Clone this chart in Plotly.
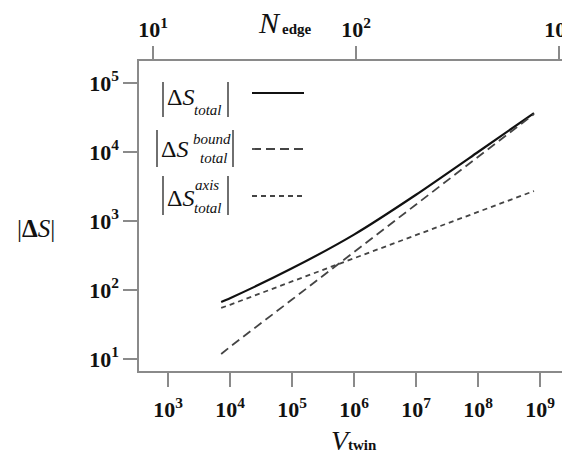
import plotly.graph_objects as go

# ---- data ----
V_twin = [7.2e3, 1e4, 1e5, 1e6, 1e7, 1e8, 8e8]
S_total = [67, 76, 206, 635, 2400, 10000, 36700]
S_bound = [11.8, 15, 72.6, 355, 1730, 8470, 35500]
S_axis = [55, 61, 133, 288, 624, 1352, 2720]

x_tickvals = [1e3, 1e4, 1e5, 1e6, 1e7, 1e8, 1e9]
x_ticktext = ["10<sup>3</sup>", "10<sup>4</sup>", "10<sup>5</sup>", "10<sup>6</sup>",
              "10<sup>7</sup>", "10<sup>8</sup>", "10<sup>9</sup>"]
y_tickvals = [1e1, 1e2, 1e3, 1e4, 1e5]
y_ticktext = ["10<sup>1</sup>", "10<sup>2</sup>", "10<sup>3</sup>", "10<sup>4</sup>", "10<sup>5</sup>"]
n_tickvals = [1e1, 1e2, 1e3]
n_ticktext = ["10<sup>1</sup>", "10<sup>2</sup>", "10<sup>3</sup>"]

OFF = 8  # default page body margin
W, H = 570 - OFF, 453 - OFF
L, T, B = 139 - OFF, 61 - OFF, 82
R = 0
PW, PH = W - L - R, H - T - B
SERIF = "Liberation Serif"
AX = "#8a8a8a"


def px(x):
    return (x - OFF - L) / PW


def py(y):
    return (H - B - (y - OFF)) / PH


fig = go.Figure()
fig.add_trace(go.Scatter(x=V_twin, y=S_total, mode="lines", line=dict(color="#111", width=2.2, shape="spline", smoothing=0.6), showlegend=False))
fig.add_trace(go.Scatter(x=V_twin, y=S_bound, mode="lines", line=dict(color="#444", width=1.8, dash="9px,5px"), showlegend=False))
fig.add_trace(go.Scatter(x=V_twin, y=S_axis, mode="lines", line=dict(color="#444", width=1.8, dash="5px,4px"), showlegend=False))
fig.add_trace(go.Scatter(x=[], y=[], xaxis="x2", showlegend=False))

tickfont = dict(family=SERIF, size=22, color="#111", weight="bold")

fig.update_layout(
    width=W, height=H,
    margin=dict(l=L, r=R, t=T, b=B, autoexpand=False),
    paper_bgcolor="white", plot_bgcolor="white",
    xaxis=dict(type="log", range=[2.532, 9.484], tickvals=x_tickvals, ticktext=x_ticktext,
               ticks="outside", ticklen=14, tickcolor=AX, tickwidth=1.5,
               showline=True, linecolor=AX, linewidth=1.5, showgrid=False, zeroline=False,
               tickfont=tickfont, ticklabelstandoff=4, ticklabeloverflow="allow"),
    xaxis2=dict(type="log", range=[0.931, 3.054], overlaying="x", side="top", anchor="y",
                tickvals=n_tickvals, ticktext=n_ticktext,
                ticks="outside", ticklen=13, tickcolor=AX, tickwidth=1.5,
                showline=True, linecolor=AX, linewidth=1.5, showgrid=False, zeroline=False,
                tickfont=tickfont, ticklabelstandoff=0, ticklabeloverflow="allow"),
    yaxis=dict(type="log", range=[0.826, 5.319], tickvals=y_tickvals, ticktext=y_ticktext,
               ticks="outside", ticklen=14, tickcolor=AX, tickwidth=1.5,
               showline=True, linecolor=AX, linewidth=1.5, showgrid=False, zeroline=False,
               tickfont=dict(family=SERIF, size=22, color="#111", weight="bold"), ticklabelstandoff=0),
)

ann = []
shapes = []


def text(x, y, t, size, xanchor="left", yanchor="middle", **kw):
    ann.append(dict(x=px(x), y=py(y), xref="paper", yref="paper", text=t, showarrow=False,
                    xanchor=xanchor, yanchor=yanchor,
                    font=dict(family=SERIF, size=size, color="#111", **kw)))


def vline(x, y0, y1):
    shapes.append(dict(type="line", xref="paper", yref="paper", x0=px(x), x1=px(x), y0=py(y0), y1=py(y1),
                       line=dict(color="#222", width=1.3)))


def hline(x0, x1, y, dash, width, color):
    shapes.append(dict(type="line", xref="paper", yref="paper", x0=px(x0), x1=px(x1), y0=py(y), y1=py(y),
                       line=dict(color=color, width=width, dash=dash)))


# axis titles
text(36, 228, "|<b>Δ</b><i>S</i>|", 25, xanchor="center")
text(256, 22, "<i>N</i>", 30)
text(280, 29, "<b>edge</b>", 15)
text(329, 440, "<i>V</i>", 28)
text(346, 445, "<b>twin</b>", 15)

# legend entries
# 1: total
vline(163, 82, 117)
text(165, 97, "Δ<i>S</i>", 24)
text(192, 110, "<i>total</i>", 15)
vline(228, 82, 117)
hline(252, 304, 93, "solid", 2.2, "#111")
# 2: bound
vline(157, 130, 167)
text(159, 149, "Δ<i>S</i>", 24)
text(191, 139, "<i>bound</i>", 15)
text(198, 158, "<i>total</i>", 15)
vline(233, 130, 167)
hline(252, 304, 149, "9px,5px", 1.8, "#444")
# 3: axis
vline(163, 176, 215)
text(165, 198, "Δ<i>S</i>", 24)
text(193, 185, "<i>axis</i>", 15)
text(192, 208, "<i>total</i>", 15)
vline(228, 176, 215)
hline(252, 304, 196, "5px,4px", 1.8, "#444")

fig.update_layout(annotations=ann, shapes=shapes)
fig.write_html("out.html")
